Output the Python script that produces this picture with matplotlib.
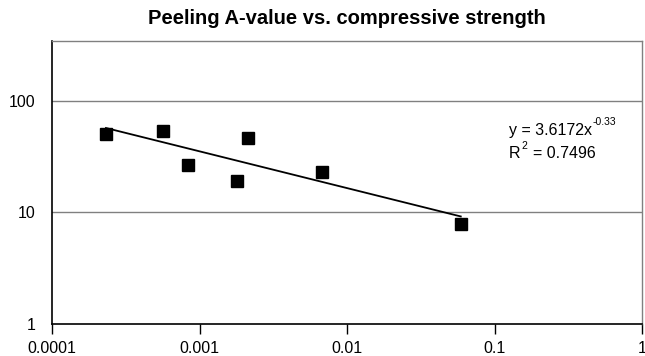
import numpy as np
import matplotlib
matplotlib.use("Agg")
import matplotlib.pyplot as plt
from matplotlib.ticker import FixedLocator, FixedFormatter, NullLocator

plt.rcParams['font.family'] = ['Liberation Sans', 'DejaVu Sans']

# data
strain = [2.32e-4, 5.62e-4, 8.4e-4, 1.78e-3, 2.13e-3, 6.73e-3, 0.0588]
a_value = [50.6, 54.2, 26.7, 19.3, 46.9, 23.2, 7.92]

# power trend line from the label
coef = 3.6172
expo = -0.33

x_ticks = [0.0001, 0.001, 0.01, 0.1, 1]
x_labels = ["0.0001", "0.001", "0.01", "0.1", "1"]
y_ticks = [1, 10, 100]
y_labels = ["1", "10", "100"]

fig = plt.figure(figsize=(6.45, 3.56), dpi=100)
ax = fig.add_axes([0.0806, 0.0899, 0.9154, 0.7949])

ax.set_xscale("log")
ax.set_yscale("log")
ax.set_xlim(1e-4, 1)
ax.set_ylim(1, 345)

# gridlines
for yv in [10, 100]:
    ax.axhline(yv, color="#808080", lw=1.0, zorder=1)

xs = np.array([min(strain), max(strain)])
ax.plot(xs, coef * xs ** expo, color="black", lw=1.3, zorder=2)
ax.plot(strain, a_value, ls="none", marker="s", ms=9.3, color="black", zorder=3)

ax.xaxis.set_major_locator(FixedLocator(x_ticks))
ax.xaxis.set_major_formatter(FixedFormatter(x_labels))
ax.xaxis.set_minor_locator(NullLocator())
ax.yaxis.set_major_locator(FixedLocator(y_ticks))
ax.yaxis.set_major_formatter(FixedFormatter(y_labels))
ax.yaxis.set_minor_locator(NullLocator())
ax.tick_params(axis="x", direction="out", length=7, width=1.0, labelsize=11.5, pad=5)
ax.tick_params(axis="y", length=0, labelsize=11.5, pad=12)

for s in ["left", "bottom"]:
    ax.spines[s].set_color("black")
    ax.spines[s].set_linewidth(1.2)
for s in ["top", "right"]:
    ax.spines[s].set_color("#808080")
    ax.spines[s].set_linewidth(1.0)

ax.set_title("Peeling A-value vs. compressive strength", fontsize=14.5,
             fontweight="bold", pad=12)

# trend label with small raised parts
t1 = ax.text(0.124, 54, "y = 3.6172x", fontsize=11.5, va="center")
ax.annotate("%.2f" % expo, xy=(1, 1), xycoords=t1, xytext=(1, 1),
            textcoords="offset points", fontsize=7.5, va="center", ha="left")
t2 = ax.text(0.124, 33.5, "R", fontsize=11.5, va="center")
ax.annotate("2", xy=(1, 1), xycoords=t2, xytext=(1, 0),
            textcoords="offset points", fontsize=7.5, va="center", ha="left")
ax.annotate("= 0.7496", xy=(1, 0.5), xycoords=t2, xytext=(9, 0),
            textcoords="offset points", fontsize=11.5, va="center", ha="left")

fig.savefig("out.png", dpi=100)
